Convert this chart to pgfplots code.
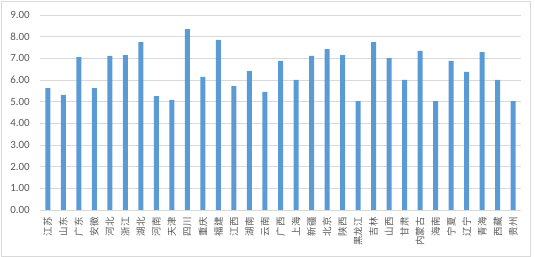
\documentclass[border=0pt]{standalone}
\usepackage{pgfplots}
\pgfplotsset{compat=1.18}
\usepackage{fontspec}
\setmainfont{Carlito}
\newfontfamily\cjk{Noto Sans CJK SC}
\definecolor{barblue}{HTML}{5B9BD5}
\definecolor{gridgray}{HTML}{D9D9D9}
\definecolor{txtgray}{HTML}{595959}
\definecolor{framegray}{HTML}{D9D9D9}
\begin{document}
\begin{tikzpicture}
\begin{axis}[
  name=ax,
  at={(0,0)}, anchor=south west,
  width=481bp, height=195bp, scale only axis,
  xmin=-0.5, xmax=30.5, ymin=0, ymax=9,
  ytick={0,1,2,3,4,5,6,7,8,9},
  xtick={0,...,30},
  xticklabels={江苏,山东,广东,安徽,河北,浙江,湖北,河南,天津,四川,重庆,福建,江西,湖南,云南,广西,上海,新疆,北京,陕西,黑龙江,吉林,山西,甘肃,内蒙古,海南,宁夏,辽宁,青海,西藏,贵州},
  xticklabel style={font=\cjk\fontsize{9.5}{9.5}\selectfont, rotate=90, anchor=east, text=txtgray, inner sep=0pt},
  xticklabel shift=7bp,
  yticklabel style={font=\fontsize{11}{11}\selectfont, text=txtgray, /pgf/number format/fixed, /pgf/number format/precision=2, /pgf/number format/fixed zerofill, inner sep=0pt, xshift=-10bp},
  /pgf/number format/assume math mode=true,
  ymajorgrids, grid style={gridgray, line width=0.75bp},
  axis line style={draw=none},
  major tick length=0pt,
  ybar, bar width=5bp,
  clip=false,
]
\addplot[fill=barblue, draw=none] coordinates {
(0,5.62) (1,5.31) (2,7.06) (3,5.62) (4,7.11) (5,7.15) (6,7.75) (7,5.26) (8,5.08) (9,8.35)
(10,6.14) (11,7.85) (12,5.72) (13,6.41) (14,5.45) (15,6.88) (16,6.00) (17,7.11) (18,7.43) (19,7.15)
(20,5.03) (21,7.75) (22,7.01) (23,6.00) (24,7.34) (25,5.03) (26,6.88) (27,6.37) (28,7.29) (29,6.00)
(30,5.03)
};
\end{axis}
\draw[framegray, line width=0.75bp] ([shift={(-39bp,-46bp)}]ax.south west) rectangle ([shift={(9bp,14bp)}]ax.north east);
\path ([shift={(-40bp,-47bp)}]ax.south west) rectangle ([shift={(14bp,15bp)}]ax.north east);
\end{tikzpicture}
\end{document}
